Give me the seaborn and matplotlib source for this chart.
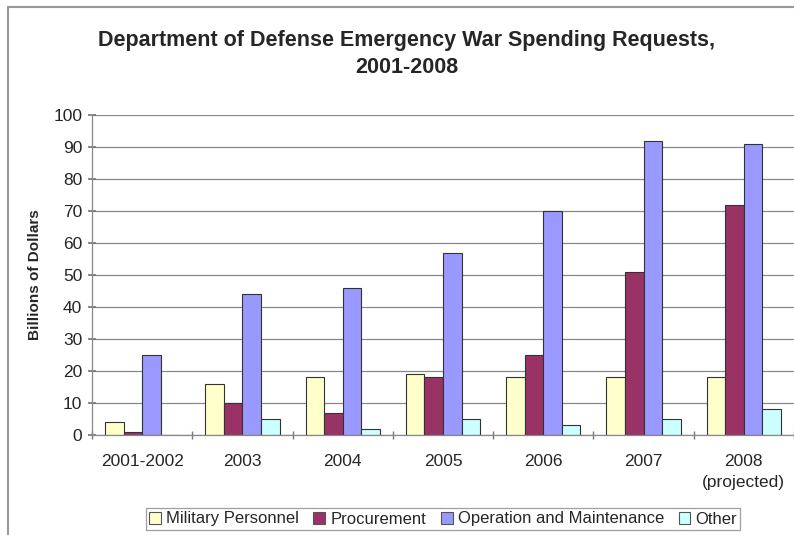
import matplotlib
matplotlib.use("Agg")
import matplotlib.pyplot as plt
import seaborn as sns
import pandas as pd
import numpy as np
from matplotlib.patches import Patch
from matplotlib.lines import Line2D

categories = ["2001-2002", "2003", "2004", "2005", "2006", "2007", "2008\n(projected)"]
military_personnel = [4, 16, 18, 19, 18, 18, 18]
procurement = [1, 10, 7, 18, 25, 51, 72]
operation_maintenance = [25, 44, 46, 57, 70, 92, 91]
other = [0, 5, 2, 5, 3, 5, 8]
series_names = ["Military Personnel", "Procurement", "Operation and Maintenance", "Other"]
colors = ["#FFFFCC", "#993366", "#9999FF", "#CCFFFF"]

rows = []
for name, vals in zip(series_names, [military_personnel, procurement, operation_maintenance, other]):
    for c, v in zip(categories, vals):
        rows.append({"Year": c, "Series": name, "Value": v})
df = pd.DataFrame(rows)

sns.set_theme(style="white")
plt.rcParams['font.family'] = ['Liberation Sans', 'DejaVu Sans']

fig = plt.figure(figsize=(7.94, 5.35), dpi=100)
ax = fig.add_axes([92/794, 1 - 435/535, 702/794, 320/535])

sns.barplot(data=df, x="Year", y="Value", hue="Series", palette=colors,
            order=categories, hue_order=series_names, width=0.74, saturation=1,
            edgecolor="#333333", linewidth=0.8, ax=ax, legend=False)

ax.set_ylim(0, 100)
ax.set_xlim(-0.5, len(categories) - 0.5)
ax.set_yticks(np.arange(0, 101, 10))
ax.yaxis.grid(True, color="#888888", linewidth=0.9)
ax.set_axisbelow(True)
ax.tick_params(axis="y", labelsize=12.5, length=6, direction="inout", left=True, color="#777777", pad=4)
ax.tick_params(axis="x", labelsize=12.5, length=0, pad=14)
for lab in ax.get_xticklabels():
    lab.set_linespacing(1.45)
ax.set_xticks(np.arange(-0.5, len(categories) - 0.4, 1), minor=True)
ax.tick_params(axis="x", which="minor", length=6, direction="inout", color="#777777", bottom=True)
for s in ["top", "right"]:
    ax.spines[s].set_visible(False)
for s in ["left", "bottom"]:
    ax.spines[s].set_color("#888888")
    ax.spines[s].set_linewidth(0.9)
ax.set_xlabel("")
ax.set_ylabel("Billions of Dollars", fontsize=11, fontweight="bold", labelpad=8)

fig.text(407/794, 1 - 54/535, "Department of Defense Emergency War Spending Requests,\n2001-2008",
         ha="center", va="center", fontsize=15.5, fontweight="bold", linespacing=1.4)

handles = [Patch(facecolor=c, edgecolor="#555555", linewidth=0.8) for c in colors]
leg = fig.legend(handles, series_names, loc="center", bbox_to_anchor=(443/794, 1 - 519/535),
                 ncol=4, fontsize=12, frameon=True, fancybox=False, handlelength=0.7,
                 handleheight=0.7, handletextpad=0.3, columnspacing=0.9, borderpad=0.2)
leg.get_frame().set_edgecolor("#888888")
leg.get_frame().set_linewidth(0.9)

fig.add_artist(Line2D([8/794, 8/794], [0, 1 - 7/535], transform=fig.transFigure, color="#999999", linewidth=1.5))
fig.add_artist(Line2D([8/794, 1], [1 - 7/535, 1 - 7/535], transform=fig.transFigure, color="#999999", linewidth=1.5))

fig.savefig("out.png", dpi=100)
